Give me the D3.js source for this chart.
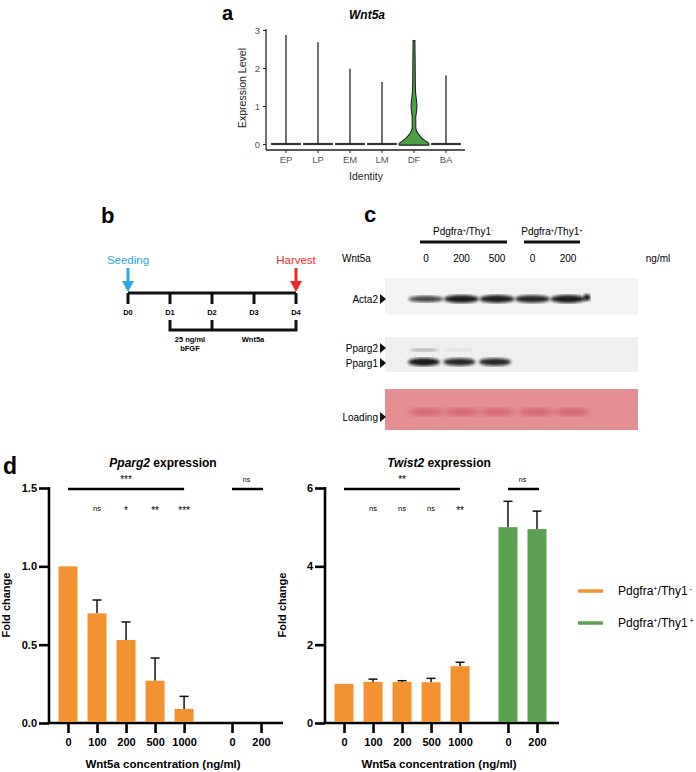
<!DOCTYPE html>
<meta charset="utf-8">
<head>
  <title>Wnt5a figure</title>
  <script src="https://cdnjs.cloudflare.com/ajax/libs/d3/7.8.5/d3.min.js"></script>
  <style>
    body { margin: 0; background: #fff; }
    text { font-family: "Liberation Sans", Arial, sans-serif; }
  </style>
</head>
<body>
<div id="fig"></div>
<script>
// ---- panel a : violin data
var identities = ["EP", "LP", "EM", "LM", "DF", "BA"]
var violinMax = [2.87, 2.68, 1.98, 1.63, 2.72, 1.8]
var dfLevels = [0, 0.04, 0.12, 0.22, 0.32, 0.45, 0.7, 0.85, 1.0, 1.15, 1.35, 1.6, 2.0, 2.4, 2.72]
var dfWidth  = [1, 0.9, 0.6, 0.35, 0.16, 0.08, 0.08, 0.13, 0.16, 0.13, 0.07, 0.05, 0.04, 0.03, 0.02]
var aTicks = [0, 1, 2, 3]

// ---- panel b : timeline
var days = ["D0", "D1", "D2", "D3", "D4"]

// ---- panel c : blot
var groups = ["Pdgfra+/Thy1-", "Pdgfra+/Thy1+"]
var laneDose = ["0", "200", "500", "0", "200"]
var acta2 = [0.6, 1, 0.95, 0.9, 1]
var pparg1 = [1, 0.85, 0.85, 0, 0]
var pparg2 = [0.2, 0.05, 0, 0, 0]
var loading = [0.8, 0.85, 0.8, 0.85, 0.85]

// ---- panel d : bar charts
var doses = ["0", "100", "200", "500", "1000", "0", "200"]
var slot = [0, 1, 2, 3, 4, 5.65, 6.65]
var cellType = ["neg", "neg", "neg", "neg", "neg", "pos", "pos"]
var pparg2Mean = [1.0, 0.70, 0.53, 0.27, 0.09, null, null]
var pparg2Err  = [0, 0.085, 0.115, 0.145, 0.08, null, null]
var twist2Mean = [1.0, 1.05, 1.05, 1.04, 1.45, 5.0, 4.95]
var twist2Err  = [0, 0.07, 0.03, 0.1, 0.1, 0.66, 0.46]
var pparg2Sig = ["", "ns", "*", "**", "***"]
var twist2Sig = ["", "ns", "ns", "ns", "**"]
var pparg2Ticks = [0, 0.5, 1.0, 1.5]
var twist2Ticks = [0, 2, 4, 6]

var ORANGE = "#f39230", GREEN = "#5aa150"

var svg = d3.select("#fig").append("svg")
  .attr("width", 696).attr("height", 772)

var defs = svg.append("defs")
defs.append("filter").attr("id", "blur").append("feGaussianBlur").attr("stdDeviation", 1.6)
defs.append("filter").attr("id", "blur2").append("feGaussianBlur").attr("stdDeviation", 2.5)

function letter(t, x, y, size) {
  svg.append("text").attr("x", x).attr("y", y).text(t)
    .attr("font-size", size || 22).attr("font-weight", "bold")
}

// ================= panel a
letter("a", 222, 20, 20)
svg.append("text").attr("x", 367).attr("y", 19).attr("text-anchor", "middle")
  .attr("font-size", 12).attr("font-weight", "bold").attr("font-style", "italic").text("Wnt5a")

var ax = d3.scaleBand().domain(identities).range([270, 462])
var ay = d3.scaleLinear().domain([0, 3]).range([144, 30])

var ga = svg.append("g")
ga.append("g").attr("transform", "translate(266,0)")
  .call(d3.axisLeft(ay).tickValues(aTicks).tickSize(3).tickPadding(3).tickFormat(d3.format("d")))
  .call(function(g) {
    g.select(".domain").attr("d", "M0,150V29").attr("stroke", "#222").attr("stroke-width", 1.3)
    g.selectAll(".tick line").attr("stroke", "#222")
    g.selectAll("text").attr("fill", "#555").attr("font-size", 9.5).attr("font-family", "Liberation Sans, Arial")
  })
ga.append("g").attr("transform", "translate(0,150)")
  .call(d3.axisBottom(ax).tickSize(3).tickPadding(3))
  .call(function(g) {
    g.select(".domain").attr("d", "M266,0H465").attr("stroke", "#222").attr("stroke-width", 1.3)
    g.selectAll(".tick line").attr("stroke", "#222")
    g.selectAll("text").attr("fill", "#555").attr("font-size", 9.5).attr("font-family", "Liberation Sans, Arial")
  })
svg.append("text").attr("x", 366).attr("y", 180).attr("text-anchor", "middle")
  .attr("font-size", 10.5).attr("fill", "#222").text("Identity")
svg.append("text").attr("transform", "translate(246,88) rotate(-90)").attr("text-anchor", "middle")
  .attr("font-size", 10.5).attr("fill", "#222").text("Expression Level")

var halfW = 14.5
identities.forEach(function(id, i) {
  var cx = ax(id) + ax.bandwidth() / 2
  if (id === "DF") {
    var area = d3.area()
      .y(function(d) { return ay(d[0]) })
      .x0(function(d) { return cx - d[1] * halfW - 0.6 })
      .x1(function(d) { return cx + d[1] * halfW + 0.6 })
      .curve(d3.curveMonotoneY)
    var pts = dfLevels.map(function(v, k) { return [v, dfWidth[k]] })
    pts.unshift([-0.03, 0.98])
    ga.append("path").datum(pts).attr("d", area)
      .attr("fill", "#4aa143").attr("stroke", "#222").attr("stroke-width", 1.1)
  } else {
    ga.append("path")
      .attr("d", "M" + (cx - halfW) + "," + (ay(0) - 0.6) + "H" + (cx + halfW) + "V" + (ay(0) + 0.6) + "H" + (cx - halfW) + "Z")
      .attr("fill", "#222").attr("stroke", "#222").attr("stroke-width", 0.9)
    ga.append("line").attr("x1", cx).attr("x2", cx).attr("y1", ay(0)).attr("y2", ay(violinMax[i]))
      .attr("stroke", "#222").attr("stroke-width", 1.3)
  }
})

// ================= panel b
letter("b", 101, 223)
var bx = d3.scalePoint().domain(days).range([128, 296])
var gb = svg.append("g").attr("stroke", "#111").attr("stroke-width", 3).attr("fill", "none")
gb.append("line").attr("x1", bx("D0")).attr("x2", bx("D4")).attr("y1", 293).attr("y2", 293)
days.forEach(function(d) {
  gb.append("line").attr("x1", bx(d)).attr("x2", bx(d)).attr("y1", 293).attr("y2", 304)
  svg.append("text").attr("x", bx(d)).attr("y", 315).attr("text-anchor", "middle")
    .attr("font-size", 7.5).attr("font-weight", "bold").text(d)
})
gb.append("path").attr("d", "M" + bx("D1") + ",320V330H" + bx("D4") + "V320M" + bx("D2") + ",320V330")
svg.append("text").attr("x", 190).attr("y", 342).attr("text-anchor", "middle")
  .attr("font-size", 7.5).attr("font-weight", "bold").text("25 ng/ml")
svg.append("text").attr("x", 190).attr("y", 351).attr("text-anchor", "middle")
  .attr("font-size", 7.5).attr("font-weight", "bold").text("bFGF")
svg.append("text").attr("x", 253).attr("y", 342).attr("text-anchor", "middle")
  .attr("font-size", 7.5).attr("font-weight", "bold").text("Wnt5a")

function arrow(x, col, label) {
  svg.append("text").attr("x", x).attr("y", 264).attr("text-anchor", "middle")
    .attr("font-size", 11.5).attr("fill", col).text(label)
  svg.append("line").attr("x1", x).attr("x2", x).attr("y1", 268).attr("y2", 283)
    .attr("stroke", col).attr("stroke-width", 3)
  svg.append("path").attr("d", "M" + (x - 6) + ",281L" + (x + 6) + ",281L" + x + ",292Z").attr("fill", col)
}
arrow(bx("D0"), "#29abe2", "Seeding")
arrow(bx("D4"), "#ee2b2b", "Harvest")

// ================= panel c
letter("c", 364, 222)
var lx = d3.scalePoint().domain(d3.range(5)).range([426, 568])
function sup(sel, base, s1, mid, s2, fs) {
  sel.append("tspan").text(base)
  sel.append("tspan").text(s1).attr("font-size", fs * 0.6).attr("dy", -fs * 0.35)
  sel.append("tspan").text(mid).attr("dy", fs * 0.35)
  sel.append("tspan").text(s2).attr("font-size", fs * 0.6).attr("dy", -fs * 0.35)
}
var gcx = [463, 552]
groups.forEach(function(g, i) {
  var t = svg.append("text").attr("x", gcx[i]).attr("y", 235).attr("text-anchor", "middle").attr("font-size", 10)
  sup(t, "Pdgfra", "+", "/Thy1", g.slice(-1), 10)
})
svg.append("line").attr("x1", 420).attr("x2", 507).attr("y1", 242).attr("y2", 242).attr("stroke", "#111").attr("stroke-width", 3)
svg.append("line").attr("x1", 524).attr("x2", 580).attr("y1", 242).attr("y2", 242).attr("stroke", "#111").attr("stroke-width", 3)
svg.append("text").attr("x", 342).attr("y", 262).attr("font-size", 10).text("Wnt5a")
laneDose.forEach(function(d, i) {
  svg.append("text").attr("x", lx(i)).attr("y", 262).attr("text-anchor", "middle").attr("font-size", 10).text(d)
})
svg.append("text").attr("x", 658).attr("y", 262).attr("text-anchor", "middle").attr("font-size", 10).text("ng/ml")

function blotLabel(t, y) {
  svg.append("text").attr("x", 378).attr("y", y + 3.5).attr("text-anchor", "end").attr("font-size", 10).text(t)
  svg.append("path").attr("d", "M380," + (y - 5) + "L386," + y + "L380," + (y + 5) + "Z").attr("fill", "#111")
}
// Acta2 blot
svg.append("rect").attr("x", 385).attr("y", 278).attr("width", 253).attr("height", 37).attr("fill", "#f3f3f3")
acta2.forEach(function(v, i) {
  svg.append("ellipse").attr("cx", lx(i)).attr("cy", 299).attr("rx", 17.5).attr("ry", 2 + v * 2)
    .attr("fill", "#111").attr("opacity", 0.45 + v * 0.5).attr("filter", "url(#blur)")
})
svg.append("circle").attr("cx", 587).attr("cy", 297.5).attr("r", 3.3).attr("fill", "#111").attr("filter", "url(#blur)")
blotLabel("Acta2", 299)

// Pparg blot
svg.append("rect").attr("x", 385).attr("y", 337).attr("width", 253).attr("height", 35).attr("fill", "#efefef")
pparg1.forEach(function(v, i) {
  if (!v) return
  svg.append("ellipse").attr("cx", lx(i) - 2).attr("cy", 362).attr("rx", 16).attr("ry", 2.5 + v * 1.5)
    .attr("fill", "#111").attr("opacity", 0.55 + v * 0.4).attr("filter", "url(#blur)")
})
pparg2.forEach(function(v, i) {
  if (!v) return
  svg.append("ellipse").attr("cx", lx(i) - 2).attr("cy", 350).attr("rx", 14).attr("ry", 1.6)
    .attr("fill", "#333").attr("opacity", v * 1.8).attr("filter", "url(#blur)")
})
blotLabel("Pparg2", 348)
blotLabel("Pparg1", 363)

// Loading
svg.append("rect").attr("x", 385).attr("y", 389).attr("width", 253).attr("height", 41).attr("fill", "#e49092")
loading.forEach(function(v, i) {
  svg.append("ellipse").attr("cx", lx(i) + (i > 2 ? 4 : 0)).attr("cy", 412).attr("rx", 18).attr("ry", 4)
    .attr("fill", "#d2606c").attr("opacity", v).attr("filter", "url(#blur2)")
})
blotLabel("Loading", 417)

// ================= panel d
letter("d", 3, 474, 23)

function barChart(x0, means, errs, sigs, ticks, ymax, italicPart, sigTop, sigTopR) {
  var x = d3.scaleLinear().domain([0, 6.65]).range([x0 + 19, x0 + 212])
  var y = d3.scaleLinear().domain([0, ymax]).range([723, 488])
  var g = svg.append("g")
  var tt = svg.append("text").attr("x", x0 + 114).attr("y", 467).attr("text-anchor", "middle")
    .attr("font-size", 12).attr("font-weight", "bold")
  tt.append("tspan").attr("font-style", "italic").text(italicPart)
  tt.append("tspan").text(" expression")

  g.append("g").attr("transform", "translate(" + x0 + ",0)")
    .call(d3.axisLeft(y).tickValues(ticks).tickSize(10).tickPadding(2)
      .tickFormat(ymax < 2 ? d3.format(".1f") : d3.format("d")))
    .call(function(a) {
      a.select(".domain").attr("d", "M0,723V487").attr("stroke", "#000").attr("stroke-width", 2.6)
      a.selectAll(".tick line").attr("stroke", "#000").attr("stroke-width", 2.6)
      a.selectAll("text").attr("fill", "#000").attr("font-size", 11).attr("font-weight", "bold")
        .attr("font-family", "Liberation Sans, Arial")
    })
  g.append("g").attr("transform", "translate(0,723)")
    .call(d3.axisBottom(x).tickValues(slot).tickSize(10).tickPadding(5)
      .tickFormat(function(d, i) { return doses[i] }))
    .call(function(a) {
      a.select(".domain").attr("d", "M" + (x0 - 1) + ",0H" + (x0 + 234)).attr("stroke", "#000").attr("stroke-width", 2.6)
      a.selectAll(".tick line").attr("stroke", "#000").attr("stroke-width", 2.6)
      a.selectAll("text").attr("fill", "#000").attr("font-size", 11).attr("font-weight", "bold")
        .attr("font-family", "Liberation Sans, Arial")
    })
  svg.append("text").attr("x", x0 + 114).attr("y", 768).attr("text-anchor", "middle")
    .attr("font-size", 11.5).attr("font-weight", "bold").text("Wnt5a concentration (ng/ml)")
  svg.append("text").attr("transform", "translate(" + (x0 - 39) + ",605) rotate(-90)").attr("text-anchor", "middle")
    .attr("font-size", 11).attr("font-weight", "bold").text("Fold change")

  var bw = 19
  means.forEach(function(m, i) {
    if (m === null) return
    var col = cellType[i] === "neg" ? ORANGE : GREEN
    if (errs[i] > 0) {
      var top = y(m + errs[i])
      g.append("line").attr("x1", x(slot[i])).attr("x2", x(slot[i])).attr("y1", y(m)).attr("y2", top)
        .attr("stroke", "#111").attr("stroke-width", 1.5)
      g.append("line").attr("x1", x(slot[i]) - 4.5).attr("x2", x(slot[i]) + 4.5).attr("y1", top).attr("y2", top)
        .attr("stroke", "#111").attr("stroke-width", 1.5)
    }
    g.append("rect").attr("x", x(slot[i]) - bw / 2).attr("width", bw)
      .attr("y", y(m)).attr("height", 722 - y(m)).attr("fill", col)
  })
  // significance
  g.append("line").attr("x1", x(0)).attr("x2", x(4)).attr("y1", 489).attr("y2", 489).attr("stroke", "#000").attr("stroke-width", 2.5)
  g.append("text").attr("x", x(2)).attr("y", 483).attr("text-anchor", "middle").attr("font-size", 10).text(sigTop)
  g.append("line").attr("x1", x(5.65)).attr("x2", x(6.65) + 2).attr("y1", 489).attr("y2", 489).attr("stroke", "#000").attr("stroke-width", 2.5)
  g.append("text").attr("x", x(6.15)).attr("y", 482).attr("text-anchor", "middle").attr("font-size", 7).attr("fill", "#000").text(sigTopR)
  sigs.forEach(function(s, i) {
    if (!s) return
    var isNs = s === "ns"
    g.append("text").attr("x", x(slot[i])).attr("y", isNs ? 511 : 514).attr("text-anchor", "middle")
      .attr("font-size", isNs ? 7.5 : 10).attr("fill", "#000").text(s)
  })
}

barChart(49, pparg2Mean, pparg2Err, pparg2Sig, pparg2Ticks, 1.5, "Pparg2", "***", "ns")
barChart(325, twist2Mean, twist2Err, twist2Sig, twist2Ticks, 6, "Twist2", "**", "ns")

// legend
var legend = [["-", ORANGE, 591], ["+", GREEN, 623]]
legend.forEach(function(l) {
  svg.append("line").attr("x1", 578).attr("x2", 603).attr("y1", l[2]).attr("y2", l[2])
    .attr("stroke", l[1]).attr("stroke-width", 3.5)
  var t = svg.append("text").attr("x", 618).attr("y", l[2] + 4).attr("font-size", 12)
  sup(t, "Pdgfra", "+", "/Thy1", " " + l[0], 12)
})
</script>
</body>
